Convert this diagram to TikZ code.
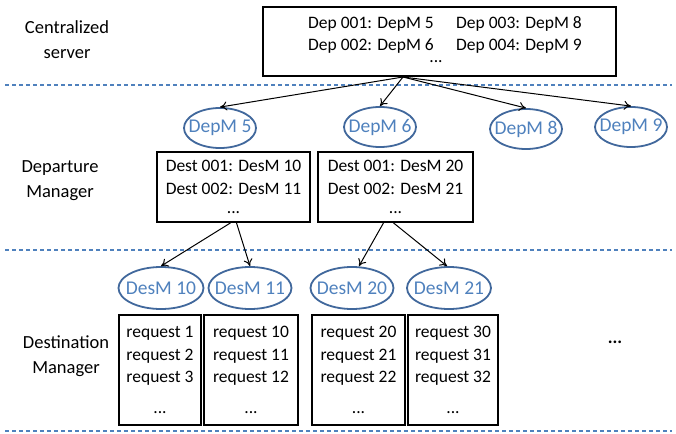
\documentclass[tikz,border=0pt]{standalone}
\usepackage{fontspec}
\setmainfont{Carlito}
\usetikzlibrary{shapes.geometric,arrows.meta,calc}
\definecolor{sepblue}{HTML}{4F81BD}
\definecolor{ellline}{HTML}{41689C}
\definecolor{elltext}{HTML}{4F81BD}
\begin{document}
\begin{tikzpicture}[x=1pt,y=-1pt,
  sepline/.style={draw=sepblue, line width=1.3pt, dash pattern=on 4pt off 3pt},
  bbox/.style={draw=black, line width=1.8pt, rectangle, inner sep=0pt, align=center,
    font=\fontsize{17.5}{22.5}\selectfont},
  mgr/.style={ellipse, draw=ellline, line width=1.8pt, text=elltext,
    inner xsep=-9pt, inner ysep=-3pt,
    font=\fontsize{19.5}{20}\selectfont},
  lbl/.style={align=center, font=\fontsize{18.5}{25}\selectfont},
  txt/.style={font=\fontsize{17.5}{20}\selectfont, inner sep=0pt},
  arr/.style={-{To[length=7pt,width=9pt]}, line width=1pt}]
\useasboundingbox (0,0) rectangle (676,433);

% separators
\draw[sepline] (5,85) -- (672,85);
\draw[sepline] (5,250) -- (672,250);
\draw[sepline] (5,431) -- (672,431);

% left labels
\node[lbl] (lcs) at (67,40) {Centralized\\server};
\node[lbl] (ldm) at (60,181) {Departure\\Manager};
\node[lbl] (lds) at (66,356) {Destination\\Manager};

% centralized server
\node[bbox, minimum width=353pt, minimum height=69pt] (srv) at (439.5,41.5) {};
\node[txt] (s1) at (371,24) {Dep 001: DepM 5};
\node[txt] (s2) at (371,46) {Dep 002: DepM 6};
\node[txt] (s3) at (519,24) {Dep 003: DepM 8};
\node[txt] (s4) at (519,46) {Dep 004: DepM 9};
\node[txt] (s5) at (436,62) {...};
\coordinate (srvout) at (403,77);

% departure managers
\node[mgr, minimum width=72pt, minimum height=40pt] (dep5) at (220,128) {DepM 5};
\node[mgr, minimum width=72pt, minimum height=40pt] (dep6) at (380,127) {DepM 6};
\node[mgr, minimum width=72pt, minimum height=40pt] (dep8) at (526,129) {DepM 8};
\node[mgr, minimum width=72pt, minimum height=40pt] (dep9) at (631,127) {DepM 9};

\draw[arr] (srvout) -- (dep5.north);
\draw[arr] (srvout) -- (dep6.north);
\draw[arr] (srvout) -- (dep8.north);
\draw[arr] (srvout) -- (dep9.north);

% departure manager tables
\node[bbox, minimum width=153pt, minimum height=70pt] (d1) at (233.5,187)
  {Dest 001: DesM 10\\Dest 002: DesM 11\\[-3pt]...};
\node[bbox, minimum width=155pt, minimum height=70pt] (d2) at (395.5,187)
  {Dest 001: DesM 20\\Dest 002: DesM 21\\[-3pt]...};

% destination managers
\node[mgr, minimum width=85pt, minimum height=42pt] (des10) at (161,288) {DesM 10};
\node[mgr, minimum width=83pt, minimum height=42pt] (des11) at (250,288) {DesM 11};
\node[mgr, minimum width=83pt, minimum height=42pt] (des20) at (352,288) {DesM 20};
\node[mgr, minimum width=84pt, minimum height=42pt] (des21) at (449,288) {DesM 21};

\draw[arr] ($(d1.south)+(-3,0)$) -- (des10.north);
\draw[arr] ($(d1.south)+(3,0)$) -- (des11.north);
\draw[arr] ($(d2.south)+(-12,0)$) -- ($(des20.north)+(7,0)$);
\draw[arr] ($(d2.south)+(-2,0)$) -- ($(des21.north)+(-2,0)$);

% request queues
\node[bbox, minimum width=82pt, minimum height=110pt] (q1) at (160,370)
  {request 1\\request 2\\request 3\\[8pt]...};
\node[bbox, minimum width=94pt, minimum height=110pt] (q2) at (251,370)
  {request 10\\request 11\\request 12\\[8pt]...};
\node[bbox, minimum width=93pt, minimum height=110pt] (q3) at (358.5,370)
  {request 20\\request 21\\request 22\\[8pt]...};
\node[bbox, minimum width=90pt, minimum height=110pt] (q4) at (453,370)
  {request 30\\request 31\\request 32\\[8pt]...};

\node[txt, font=\fontsize{18}{20}\bfseries\selectfont] (more) at (615,342) {...};
\end{tikzpicture}
\end{document}
